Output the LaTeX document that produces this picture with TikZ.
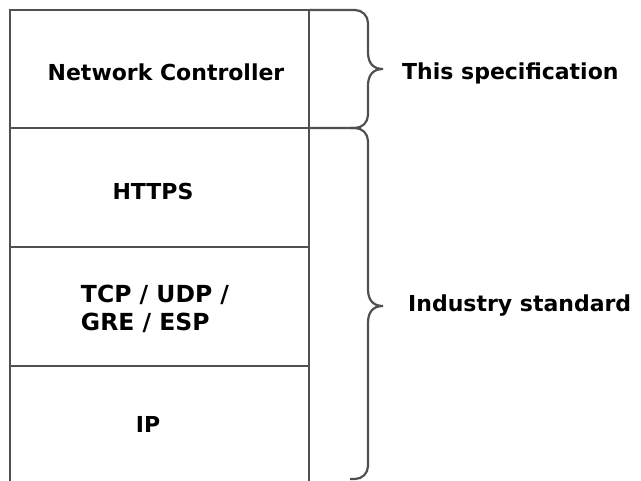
\documentclass[tikz,border=0pt]{standalone}
\usepackage{fontspec}
\setmainfont{DejaVu Sans}
\usepackage{tikz}
\usetikzlibrary{calc}
\definecolor{C7}{HTML}{505050}

\begin{document}
\begin{tikzpicture}[x=1pt,y=-1pt,
  frame/.style={line width=2.2pt, C7},
  layer/.style={font=\bfseries\fontsize{22}{31}\selectfont, align=left, inner sep=0pt}]
\useasboundingbox (0,0) rectangle (641,481);
\clip (0,0) rectangle (641,481);
%
\coordinate (tl) at (10,10);
\coordinate (col) at (309,10);
\coordinate (cut1) at (309,128);
\coordinate (tip1) at (383,69);
\coordinate (tip2) at (383,306);
%
% stack of layers
\draw[frame] (tl) rectangle (309,490);
\draw[frame] (10,128) -- (cut1);
\draw[frame] (10,247) -- (309,247);
\draw[frame] (10,366) -- (309,366);
%
\node[layer] (nc) at (166,72) {Network Controller};
\node[layer] (https) at (153,191) {HTTPS};
\node[layer, font=\bfseries\fontsize{23.5}{28}\selectfont] (tcp) at (155,309) {TCP / UDP /\\GRE / ESP};
\node[layer] (ip) at (148,424) {IP};
%
% braces
\draw[frame] (col) -- (355,10) arc(-90:0:13) -- (368,52)
  .. controls (368,63) and (373,69) .. (tip1)
  .. controls (373,69) and (368,75) .. (368,86) -- (368,115) arc(0:90:13) -- (cut1);
\draw[frame] (350,128) -- (355,128) arc(-90:0:13) -- (368,289)
  .. controls (368,300) and (373,306) .. (tip2)
  .. controls (373,306) and (368,312) .. (368,323) -- (368,466) arc(0:90:13) -- (350,479);
%
\node[layer, anchor=west] (spec) at (402,73) {This specification};
\node[layer, anchor=west] (industry) at (408,306) {Industry standard};
\end{tikzpicture}
\end{document}
